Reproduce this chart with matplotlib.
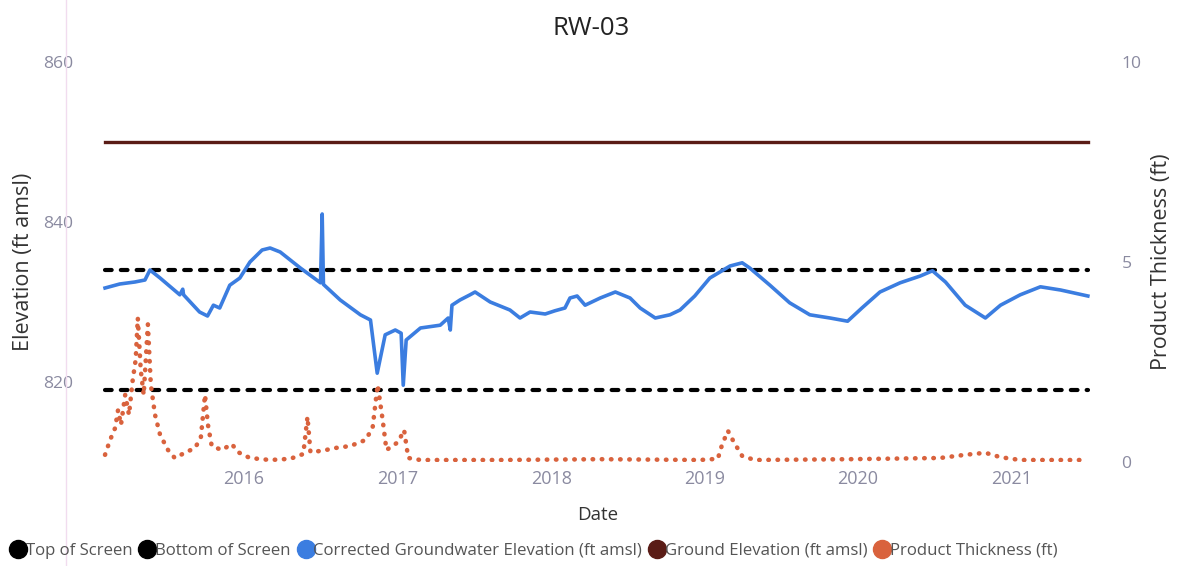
""" plot of groundwater elevation and product thickness for well RW-03 """

# import modules
import pandas as pd
import matplotlib.pyplot as plt
import matplotlib.dates as mdates
from matplotlib.lines import Line2D

plt.rcParams['font.family'] = ['Open Sans', 'DejaVu Sans']

# data
well = 'RW-03'
top_of_screen = 834.0
bottom_of_screen = 819.0
ground_elevation = 850.0

gw_dates = ['2015-02-04', '2015-03-11', '2015-04-16', '2015-05-10', '2015-05-22', '2015-06-15',
            '2015-08-01', '2015-08-08', '2015-08-10', '2015-09-17', '2015-10-06', '2015-10-20',
            '2015-11-04', '2015-11-28', '2015-12-22', '2016-01-15', '2016-02-13', '2016-03-03',
            '2016-03-27', '2016-05-14', '2016-07-01', '2016-07-05', '2016-07-08', '2016-08-17',
            '2016-10-04', '2016-10-28', '2016-11-13', '2016-12-02', '2016-12-26', '2017-01-09',
            '2017-01-14', '2017-01-21', '2017-02-24', '2017-04-12', '2017-05-01', '2017-05-06',
            '2017-05-10', '2017-05-29', '2017-06-22', '2017-07-04', '2017-08-09', '2017-09-25',
            '2017-10-19', '2017-11-12', '2017-12-18', '2018-01-10', '2018-02-03', '2018-02-15',
            '2018-03-04', '2018-03-23', '2018-04-28', '2018-06-03', '2018-07-08', '2018-08-01',
            '2018-09-06', '2018-10-11', '2018-11-04', '2018-12-09', '2019-01-14', '2019-03-03',
            '2019-04-01', '2019-04-19', '2019-06-06', '2019-07-23', '2019-09-09', '2019-10-27',
            '2019-12-08', '2020-01-11', '2020-02-23', '2020-04-11', '2020-05-29', '2020-06-27',
            '2020-07-28', '2020-09-13', '2020-10-31', '2020-12-06', '2021-01-22', '2021-03-11',
            '2021-04-28', '2021-07-02']
gw_elev = [831.75, 832.25, 832.5, 832.75, 834.0, 833.0,
           830.9, 831.6, 830.9, 828.75, 828.25, 829.6,
           829.25, 832.1, 833.0, 835.0, 836.5, 836.75,
           836.25, 834.25, 832.4, 841.0, 832.2, 830.25,
           828.4, 827.75, 821.1, 825.9, 826.5, 826.1,
           819.6, 825.25, 826.75, 827.1, 828.0, 826.5,
           829.6, 830.25, 830.9, 831.25, 830.0, 829.0,
           828.0, 828.75, 828.5, 828.9, 829.25, 830.5,
           830.75, 829.6, 830.5, 831.25, 830.5, 829.25,
           828.0, 828.4, 829.0, 830.75, 833.0, 834.5,
           834.9, 834.25, 832.1, 829.9, 828.4, 828.0,
           827.6, 829.25, 831.25, 832.4, 833.25, 833.9,
           832.5, 829.6, 828.0, 829.6, 830.9, 831.9,
           831.5, 830.75]

pt_dates = ['2015-02-04', '2015-02-16', '2015-02-28', '2015-03-07', '2015-03-14', '2015-03-24',
            '2015-04-02', '2015-04-11', '2015-04-18', '2015-04-23', '2015-04-30', '2015-05-07',
            '2015-05-17', '2015-05-24', '2015-06-03', '2015-06-15', '2015-07-04', '2015-07-20',
            '2015-08-13', '2015-09-06', '2015-09-20', '2015-09-30', '2015-10-07', '2015-10-16',
            '2015-11-09', '2015-12-03', '2015-12-17', '2016-01-15', '2016-03-03', '2016-04-20',
            '2016-05-21', '2016-05-31', '2016-06-07', '2016-07-05', '2016-08-05', '2016-09-10',
            '2016-10-16', '2016-11-02', '2016-11-14', '2016-11-26', '2016-12-05', '2017-01-02',
            '2017-01-16', '2017-01-26', '2017-02-24', '2017-09-02', '2018-04-28', '2018-12-21',
            '2019-02-02', '2019-02-12', '2019-02-26', '2019-03-12', '2019-04-01', '2019-05-01',
            '2019-12-13', '2020-07-15', '2020-09-13', '2020-10-31', '2020-12-06', '2021-01-22',
            '2021-07-02']
pt_thick = [0.18, 0.55, 0.85, 1.3, 0.93, 1.68,
            1.18, 2.06, 2.56, 3.6, 2.3, 1.68,
            3.44, 1.93, 1.18, 0.68, 0.3, 0.1,
            0.23, 0.35, 0.6, 1.68, 0.93, 0.4,
            0.3, 0.45, 0.25, 0.1, 0.05, 0.08,
            0.2, 1.13, 0.25, 0.28, 0.35, 0.4,
            0.55, 0.85, 1.93, 1.05, 0.3, 0.5,
            0.8, 0.1, 0.05, 0.05, 0.07, 0.05,
            0.08, 0.43, 0.78, 0.5, 0.15, 0.05,
            0.07, 0.1, 0.18, 0.23, 0.12, 0.05,
            0.05]

gw_dates = pd.to_datetime(gw_dates)
pt_dates = pd.to_datetime(pt_dates)
start, end = gw_dates[0], gw_dates[-1]

# colours
c_gw = '#3b7de0'
c_ground = '#5a1c16'
c_pt = '#d9623d'
tick_col = '#8a8aa0'
lab_col = '#333333'

fig = plt.figure(figsize=(11.83, 5.66), dpi=100)
ax = fig.add_axes([100/1183, 1-462/566, 995/1183, 400/566])
ax2 = ax.twinx()

ax.plot([start, end], [top_of_screen]*2, color='black', lw=3,
        linestyle=(0, (1.6, 2.2)), dash_capstyle='round', label='Top of Screen')
ax.plot([start, end], [bottom_of_screen]*2, color='black', lw=3,
        linestyle=(0, (1.6, 2.2)), dash_capstyle='round', label='Bottom of Screen')
ax.plot(gw_dates, gw_elev, color=c_gw, lw=2.6, solid_joinstyle='round',
        label='Corrected Groundwater Elevation (ft amsl)')
ax.plot([start, end], [ground_elevation]*2, color=c_ground, lw=2.4,
        label='Ground Elevation (ft amsl)')
ax2.plot(pt_dates, pt_thick, color=c_pt, lw=3.3, linestyle=(0, (0.1, 1.9)),
         dash_capstyle='round', label='Product Thickness (ft)')

ax.set_ylim(810, 860)
ax2.set_ylim(0, 10)
ax.set_yticks([820, 840, 860])
ax2.set_yticks([0, 5, 10])
ax.set_xlim(pd.Timestamp('2015-01-23'), pd.Timestamp('2021-07-19'))
ax.set_xticks([pd.Timestamp(f'{y}-01-01') for y in range(2016, 2022)])
ax.xaxis.set_major_formatter(mdates.DateFormatter('%Y'))

for a in (ax, ax2):
    for s in a.spines.values():
        s.set_visible(False)
    a.tick_params(length=0, labelcolor=tick_col)
ax.tick_params(axis='y', labelsize=12.6, pad=19)
ax2.tick_params(axis='y', labelsize=12.6, pad=19)
ax.tick_params(axis='x', labelsize=13, pad=6)

ax.set_ylabel('Elevation (ft amsl)', fontsize=15.5, color=lab_col, labelpad=7)
ax2.set_ylabel('Product Thickness (ft)', fontsize=15.5, color=lab_col, labelpad=7)
ax.set_xlabel('Date', fontsize=13.5, color=lab_col, labelpad=13)
fig.suptitle(well, fontsize=18.5, color='#222222', y=0.972)

# legend with round markers
names = ['Top of Screen', 'Bottom of Screen', 'Corrected Groundwater Elevation (ft amsl)',
         'Ground Elevation (ft amsl)', 'Product Thickness (ft)']
cols = ['black', 'black', c_gw, c_ground, c_pt]
handles = [Line2D([], [], marker='o', linestyle='none', markersize=13, color=c) for c in cols]
fig.legend(handles, names, loc='lower left', bbox_to_anchor=(-0.006, -0.014), ncol=5,
           frameon=False, fontsize=12.1, handletextpad=-0.15, columnspacing=0.3,
           handlelength=1.2, labelcolor='#555555')

# faint vertical line from the screenshot
fig.add_artist(Line2D([66/1183]*2, [0, 1], color='#f1dcef', lw=1))

plt.savefig('out.png', dpi=100)
